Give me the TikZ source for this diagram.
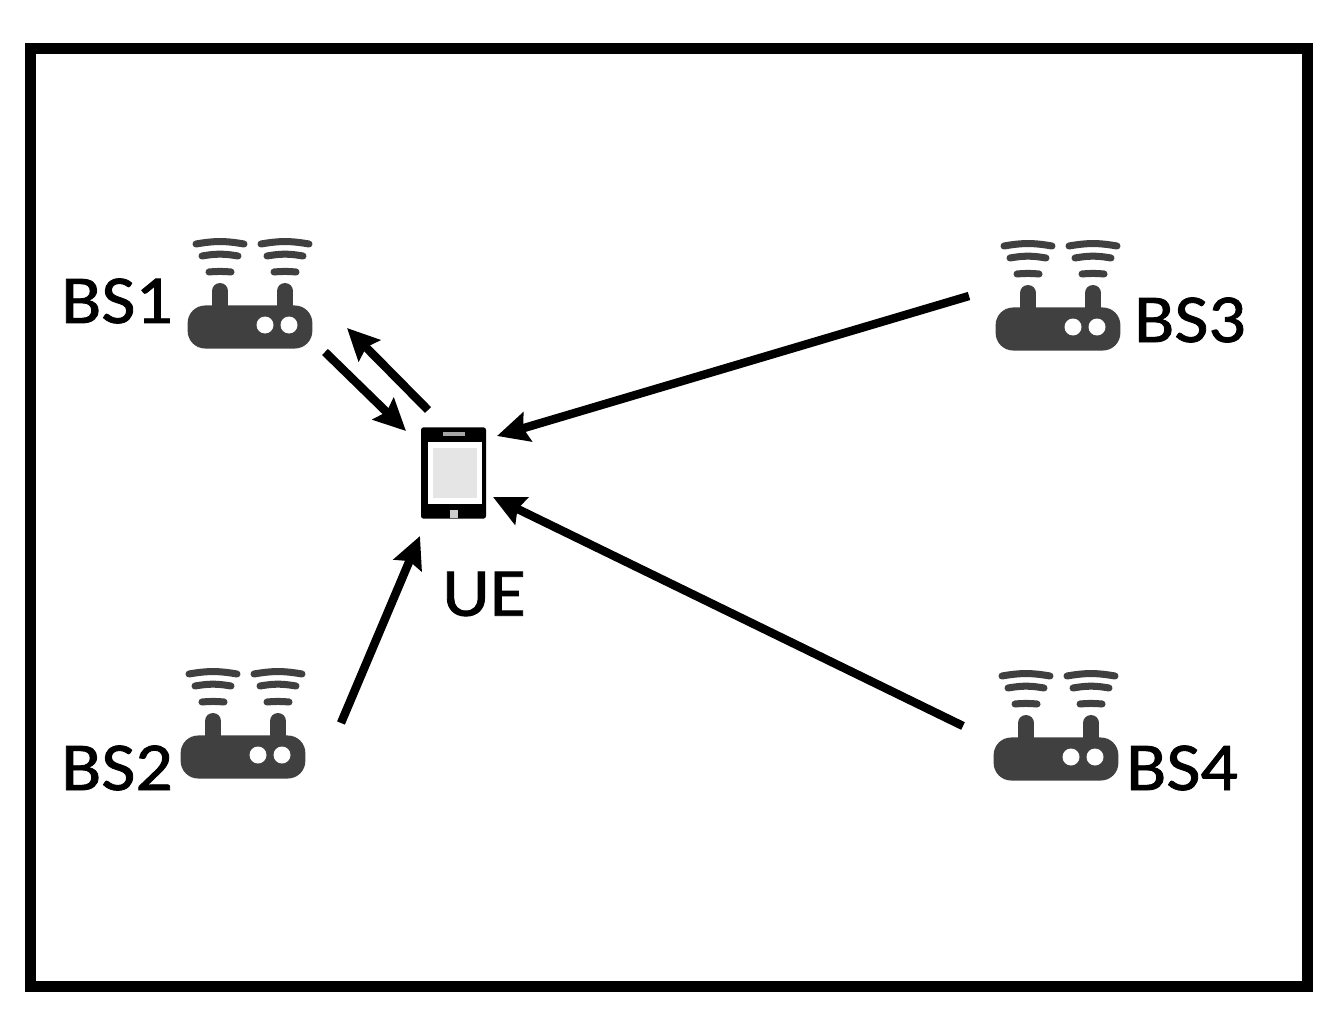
\documentclass[tikz,border=0pt]{standalone}
\usepackage{fontspec}
\setmainfont[FakeStretch=1.08,FakeBold=1.2]{Carlito}
\usetikzlibrary{arrows.meta}

\begin{document}
\begin{tikzpicture}[
    x=0.02cm, y=-0.02cm,
    routerbox/.style={rectangle, fill=routergray, rounded corners=10pt, inner sep=0pt, minimum width=71pt, minimum height=24.5pt},
    wave/.style={draw=routergray, line width=4pt, line cap=round},
    arrow/.style={-{Stealth[length=18pt, width=17pt, inset=2.5pt]}, line width=4.8pt},
    label/.style={font=\fontsize{39}{44}\selectfont, text=black, inner sep=0pt, draw=none},
    router/.pic={
        \fill[routergray] (-38,-36) rectangle (-22,0);
        \fill[routergray] (27,-36) rectangle (43,0);
        \fill[routergray] (-30,-36) circle (8);
        \fill[routergray] (35,-36) circle (8);
        \fill[white] (15,-2) circle (8.5);
        \fill[white] (39,-2) circle (8.5);
        \foreach \antenna in {-30,35} {
            \draw[wave] (\antenna-24,-83) to[bend left=10] (\antenna+24,-83);
            \draw[wave] (\antenna-18,-71) to[bend left=10] (\antenna+18,-71);
            \draw[wave] (\antenna-11,-55) to[bend left=5] (\antenna+11,-55);
        }
    }
]
\definecolor{routergray}{HTML}{404040}

\useasboundingbox (0,0) rectangle (1336,1024);
\node[rectangle, draw=black, line width=6pt, minimum width=727pt, minimum height=534pt, inner sep=0pt] (frame) at (669,517.5) {};

% base stations
\node[routerbox] (bs1) at (250,327) {};
\node[routerbox] (bs2) at (243,757) {};
\node[routerbox] (bs3) at (1058,329) {};
\node[routerbox] (bs4) at (1056,759) {};
\pic at (bs1) {router};
\pic at (bs2) {router};
\pic at (bs3) {router};
\pic at (bs4) {router};

\node[label] (bs1label) at (117,301) {BS1};
\node[label] (bs2label) at (117,768) {BS2};
\node[label] (bs3label) at (1190,320) {BS3};
\node[label] (bs4label) at (1182,768) {BS4};

% handset
\node[rectangle, fill=black, rounded corners=1.5pt, inner sep=0pt, minimum width=37pt, minimum height=52pt] (ue) at (453.5,473) {};
\node[rectangle, fill=white, inner sep=0pt, minimum width=31pt, minimum height=35pt] (uescreen) at (455,473) {};
\node[rectangle, fill=gray!20, inner sep=0pt, minimum width=25.5pt, minimum height=29pt] (uepanel) at (455,473) {};
\node[rectangle, fill=gray!70, inner sep=0pt, minimum width=12pt, minimum height=2pt] (uespeaker) at (454,434) {};
\node[rectangle, fill=gray!40, inner sep=0pt, minimum width=4pt, minimum height=4pt] (uebutton) at (454,514) {};
\node[label] (uelabel) at (484,594) {UE};

% links
\draw[arrow] ([shift={(75,25)}]bs1.center) -- ([shift={(-47.5,-42)}]ue.center);
\draw[arrow] ([shift={(-25.5,-63)}]ue.center) -- ([shift={(97,1)}]bs1.center);
\draw[arrow] ([shift={(98,-34)}]bs2.center) -- ([shift={(-33.5,63)}]ue.center);
\draw[arrow] ([shift={(-89,-33)}]bs3.center) -- ([shift={(43.5,-37)}]ue.center);
\draw[arrow] ([shift={(-93,-33)}]bs4.center) -- ([shift={(39.5,24)}]ue.center);

\end{tikzpicture}
\end{document}
